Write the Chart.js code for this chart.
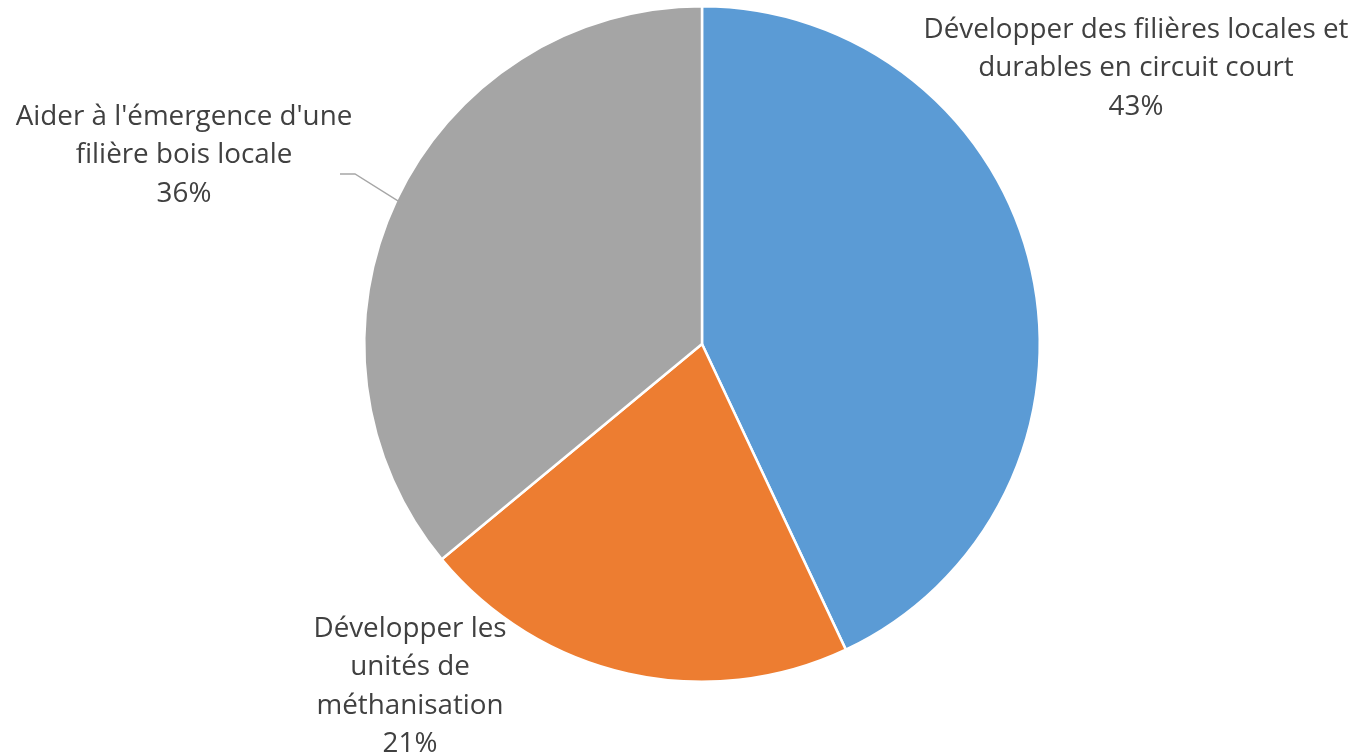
<!DOCTYPE html>
<html lang="fr">
<head>
    <meta charset="UTF-8">
    <title>Répartition des actions</title>
    <script src="https://cdn.jsdelivr.net/npm/chart.js@4.4.0/dist/chart.umd.min.js"></script>
    <style>
        html, body { margin: 0; padding: 0; background: #fff; }
        #wrap { width: 1357px; height: 754px; position: relative; }
    </style>
</head>
<body>
    <div id="wrap"><canvas id="chartCanvas"></canvas></div>
    <script>
        // données
        const categories = [
            ['Développer des filières locales et', 'durables en circuit court'],
            ['Développer les', 'unités de', 'méthanisation'],
            ["Aider à l'émergence d'une", 'filière bois locale']
        ];
        const values = [43, 21, 36];
        const colors = ['#5B9BD5', '#ED7D31', '#A5A5A5'];

        // placement des étiquettes (centre du bloc de texte, relatif au centre du camembert)
        const labelPlace = [
            { dx: 434, top: -314 },
            { dx: -292, top: 285 },
            { dx: -518, top: -227, leader: true }
        ];

        const total = values.reduce((a, b) => a + b, 0);
        const fontFam = '"Open Sans", Lato, sans-serif';

        const outLabels = {
            id: 'outLabels',
            afterDatasetsDraw(chart) {
                const ctx = chart.ctx;
                const meta = chart.getDatasetMeta(0);
                ctx.save();
                meta.data.forEach((arc, i) => {
                    const cx = arc.x, cy = arc.y;
                    const p = labelPlace[i];
                    const lines = categories[i].concat([Math.round(values[i] / total * 100) + '%']);
                    ctx.font = '27.8px ' + fontFam;
                    ctx.fillStyle = '#404040';
                    ctx.textAlign = 'center';
                    ctx.textBaseline = 'middle';
                    lines.forEach((t, k) => {
                        ctx.fillText(t, cx + p.dx, cy + p.top + k * 38.5);
                    });
                    if (p.leader) {
                        // trait de rappel vers le milieu du secteur
                        const mid = (arc.startAngle + arc.endAngle) / 2;
                        const r = arc.outerRadius;
                        const ex = cx + Math.cos(mid) * r * 0.995;
                        const ey = cy + Math.sin(mid) * r * 0.995;
                        ctx.strokeStyle = '#A6A6A6';
                        ctx.lineWidth = 1.3;
                        ctx.beginPath();
                        ctx.moveTo(cx - 362, cy - 170);
                        ctx.lineTo(cx - 347, cy - 170);
                        ctx.lineTo(ex, ey);
                        ctx.stroke();
                    }
                });
                ctx.restore();
            }
        };

        new Chart(document.getElementById('chartCanvas').getContext('2d'), {
            type: 'pie',
            data: {
                labels: categories,
                datasets: [{
                    data: values,
                    backgroundColor: colors,
                    borderColor: '#ffffff',
                    borderWidth: 2.5
                }]
            },
            options: {
                responsive: true,
                maintainAspectRatio: false,
                animation: false,
                layout: { padding: { top: 5, bottom: 71, left: 363, right: 316 } },
                plugins: {
                    legend: { display: false },
                    tooltip: { enabled: false }
                }
            },
            plugins: [outLabels]
        });
    </script>
</body>
</html>
